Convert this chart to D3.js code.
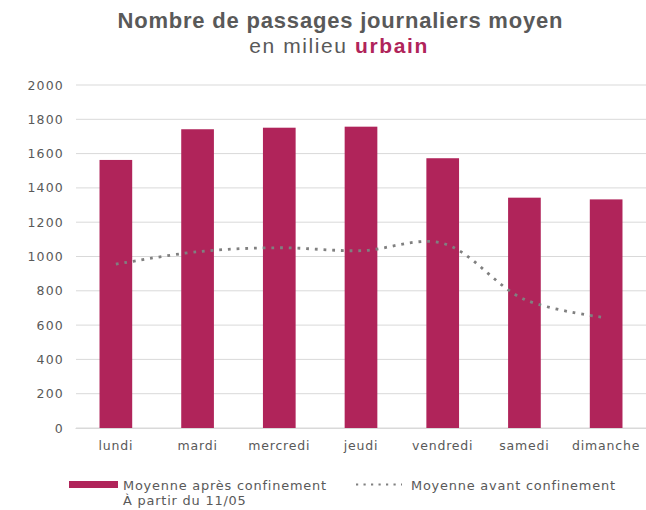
<!DOCTYPE html>
<html>
<head>
<meta charset="utf-8">
<script src="https://cdn.jsdelivr.net/npm/d3@7"></script>
<style>
  body { margin: 0; background: #fff; }
</style>
</head>
<body>
<div id="vis"></div>
<script>
// jours de la semaine
const jours = ["lundi", "mardi", "mercredi", "jeudi", "vendredi", "samedi", "dimanche"];
// moyenne après confinement (à partir du 11/05)
const apres = [1563, 1742, 1751, 1757, 1573, 1343, 1333];
// moyenne avant confinement
const avant = [955, 1028, 1051, 1034, 1077, 750, 643];
const yTicks = [0, 200, 400, 600, 800, 1000, 1200, 1400, 1600, 1800, 2000];

const W = 646, H = 510;
const crimson = "#b0245a", grey = "#595959";
const bodyFont = "DejaVu Sans, sans-serif";
const titleFont = "Liberation Sans, Arial, sans-serif";

const svg = d3.select("#vis").append("svg")
    .attr("width", W).attr("height", H);

// titre
svg.append("text")
    .attr("x", 340).attr("y", 28)
    .attr("text-anchor", "middle")
    .attr("font-family", titleFont)
    .attr("font-weight", "bold")
    .attr("font-size", 22)
    .attr("textLength", 445)
    .attr("lengthAdjust", "spacing")
    .attr("fill", grey)
    .text("Nombre de passages journaliers moyen");

const sub = svg.append("text")
    .attr("x", 339).attr("y", 53)
    .attr("text-anchor", "middle")
    .attr("font-family", titleFont)
    .attr("font-size", 21)
    .attr("letter-spacing", 1.6)
    .attr("fill", grey);
sub.append("tspan").text("en milieu ");
sub.append("tspan").attr("font-weight", "bold").attr("fill", crimson).text("urbain");

var x = d3.scaleBand()
    .domain(jours)
    .range([75, 647])
    .paddingInner(0.6)
    .paddingOuter(0.3);

var y = d3.scaleLinear().domain([0, 2000]).range([428, 85]);

// grille
svg.append("g")
    .selectAll("line")
    .data(yTicks)
    .join("line")
    .attr("x1", 76).attr("x2", 646)
    .attr("y1", d => y(d)).attr("y2", d => y(d))
    .attr("stroke", "#d9d9d9")
    .attr("stroke-width", 1);

// axe y
var yAxis = svg.append("g")
    .attr("transform", "translate(64,0)")
    .call(d3.axisLeft(y).tickValues(yTicks).tickFormat(d3.format("d")).tickSize(0).tickPadding(0));
yAxis.select(".domain").remove();
yAxis.selectAll("text")
    .attr("font-family", bodyFont)
    .attr("font-size", 12.5)
    .attr("letter-spacing", 1.2)
    .attr("fill", grey);

// barres
svg.append("g")
    .selectAll("rect")
    .data(apres)
    .join("rect")
    .attr("x", (d, i) => x(jours[i]))
    .attr("width", x.bandwidth())
    .attr("y", d => y(d))
    .attr("height", d => y(0) - y(d))
    .attr("fill", crimson);

// axe x
var xAxis = svg.append("g")
    .attr("transform", "translate(0,428)")
    .call(d3.axisBottom(x).tickSize(0).tickPadding(13));
xAxis.select(".domain").attr("stroke", "#d9d9d9");
xAxis.selectAll("text")
    .attr("font-family", bodyFont)
    .attr("font-size", 12.5)
    .attr("letter-spacing", 0.8)
    .attr("fill", grey);

// ligne pointillée
var line = d3.line()
    .x((d, i) => x(jours[i]) + x.bandwidth() / 2)
    .y(d => y(d))
    .curve(d3.curveCatmullRom.alpha(0.5));

svg.append("path")
    .datum(avant)
    .attr("d", line)
    .attr("fill", "none")
    .attr("stroke", "#808080")
    .attr("stroke-width", 2.8)
    .attr("stroke-dasharray", "2.8 5.9");

// légende
const leg = svg.append("g")
    .attr("font-family", bodyFont)
    .attr("font-size", 12.9)
    .attr("letter-spacing", 0.8)
    .attr("fill", grey);
leg.append("rect")
    .attr("x", 69).attr("y", 481)
    .attr("width", 49).attr("height", 7)
    .attr("fill", crimson);
leg.append("text")
    .attr("x", 123).attr("y", 490)
    .text("Moyenne après confinement");
leg.append("text")
    .attr("x", 123).attr("y", 505)
    .text("À partir du 11/05");
leg.append("line")
    .attr("x1", 356).attr("x2", 402)
    .attr("y1", 484.5).attr("y2", 484.5)
    .attr("stroke", "#808080")
    .attr("stroke-width", 2.2)
    .attr("stroke-dasharray", "2.2 5.3");
leg.append("text")
    .attr("x", 411).attr("y", 490)
    .text("Moyenne avant confinement");
</script>
</body>
</html>
